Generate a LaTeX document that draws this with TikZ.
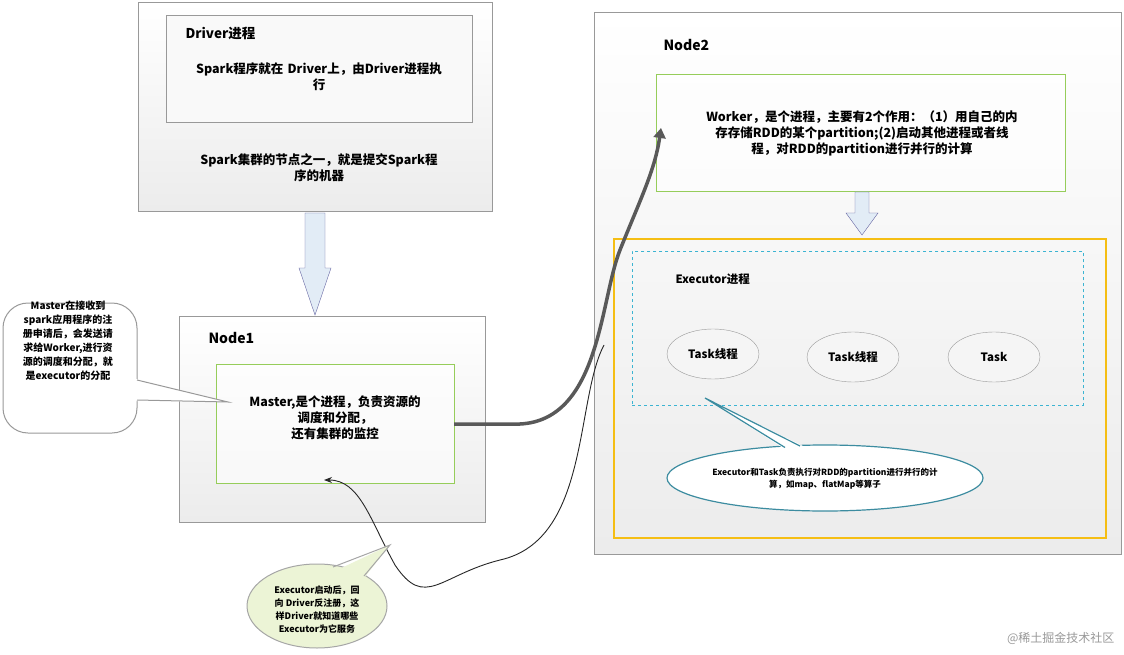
\documentclass[tikz,border=0pt]{standalone}
\usepackage{fontspec}
\setmainfont{Noto Sans CJK SC}
\usetikzlibrary{shapes.geometric,arrows.meta}
\definecolor{ha}{RGB}{226,236,246}
\definecolor{gr}{RGB}{150,205,90}
\definecolor{og}{RGB}{245,190,20}
\definecolor{cy}{RGB}{60,180,210}
\definecolor{tl}{RGB}{60,140,160}
\definecolor{lg}{RGB}{236,244,214}
\begin{document}
\begin{tikzpicture}[x=1pt,y=-1pt,
  box/.style={draw=gray!80,top color=white,bottom color=gray!15},
  grn/.style={draw=gr,line width=1.4pt,fill=white,fill opacity=0.6,text opacity=1},
  txt/.style={font=\fontsize{12.5}{16}\selectfont\bfseries,align=center},
  hollow/.style={draw=blue!40!black!60,fill=ha},
  task/.style={ellipse,draw=gray!80,fill=gray!8,minimum width=92pt,minimum height=50pt,font=\fontsize{11.5}{13}\selectfont\bfseries}]
\useasboundingbox (0,0) rectangle (1124,655);
\fill[white] (0,0) rectangle (1124,655);
% Driver
\node[box,minimum width=354pt,minimum height=209pt,anchor=north west] (drv) at (138,2) {};
\node[draw=gray!80,fill=gray!5,minimum width=306pt,minimum height=107pt,anchor=north west] (drvin) at (166,15) {};
\node[anchor=west,font=\fontsize{13.5}{15}\selectfont\bfseries] (drvt) at (182,33) {Driver进程};
\node[txt,text width=300pt] (drvd) at (319,77) {Spark程序就在 Driver上，由Driver进程执\\行};
\node[txt,text width=300pt] (drvs) at (319,168) {Spark集群的节点之一，就是提交Spark程\\序的机器};
% Node1
\node[box,minimum width=306pt,minimum height=206pt,anchor=north west] (n1) at (179,316) {};
\node[anchor=west,font=\fontsize{14}{15}\selectfont\bfseries] (n1t) at (205,338) {Node1};
\node[grn,minimum width=238pt,minimum height=119pt,anchor=north west] (mst) at (216,364) {};
\node[txt,text width=236pt] (mstt) at (335,418) {Master,是个进程，负责资源的\\调度和分配，\\还有集群的监控};
% hollow arrows
\path[hollow] (305,213) -- (325,213) -- (325,268) -- (331,268) -- (315,315) -- (299,268) -- (305,268) -- cycle;
% Node2
\node[box,minimum width=527pt,minimum height=542pt,anchor=north west] (n2) at (594,12) {};
\node[anchor=west,font=\fontsize{14}{15}\selectfont\bfseries] (n2t) at (660,45) {Node2};
\node[grn,minimum width=409pt,minimum height=117pt,anchor=north west] (wrk) at (656,74) {};
\node[txt,text width=400pt] (wrkt) at (862,133) {Worker，是个进程，主要有2个作用：（1）用自己的内\\存存储RDD的某个partition;(2)启动其他进程或者线\\程，对RDD的partition进行并行的计算};
\path[hollow] (855,192) -- (869,192) -- (869,213) -- (878,213) -- (862,235) -- (846,213) -- (855,213) -- cycle;
\node[draw=og,line width=1.5pt,minimum width=492pt,minimum height=299pt,anchor=north west] (exo) at (613,238) {};
\node[draw=cy,dashed,line width=0.9pt,minimum width=451pt,minimum height=154pt,anchor=north west] (exi) at (632,251) {};
\node[anchor=west,font=\fontsize{11.5}{13}\selectfont\bfseries] (ext) at (672,279) {Executor进程};
\node[task] (t1) at (713,354) {Task线程};
\node[task] (t2) at (853,357) {Task线程};
\node[task] (t3) at (994,357) {Task};
% callout ellipse
\node[ellipse,draw=tl,line width=1.2pt,fill=white,minimum width=316pt,minimum height=66pt] (ce) at (825,478) {};
\fill[white] (705,398) -- (783,448) -- (807,448) -- cycle;
\draw[tl,line width=1.2pt] (785,447.5) -- (705,398) -- (800,446);
\node[font=\fontsize{8.5}{12}\selectfont\bfseries,align=center] (ct) at (825,479) {Executor和Task负责执行对RDD的partition进行并行的计\\算，如map、flatMap等算子};
% left callout
\draw[draw=gray!80,line width=1pt,fill=white,rounded corners=25pt] (137,380) -- (137,303) -- (3,303) -- (3,433) -- (137,433) -- (137,400);
\fill[white] (136,379) -- (228,402) -- (136,401) -- cycle;
\draw[draw=gray!80,line width=1pt] (137,380) -- (228,402) -- (137,400);
\node[font=\fontsize{10}{14}\selectfont\bfseries,align=center] (lct) at (68,341) {Master在接收到\\spark应用程序的注\\册申请后，会发送请\\求给Worker,进行资\\源的调度和分配，就\\是executor的分配};
% thick arrow
\coordinate (ms) at (454,424);
\coordinate (wk) at (661,128);
\draw[gray!70!black,line width=3.5pt,-{Triangle[length=10pt,width=12pt]}] (ms) -- (520,424) .. controls (600,420) and (600,300) .. (620,250) .. controls (640,200) and (655,170) .. (wk);
% thin curve
\coordinate (mb) at (324,480);
\draw[gray!30!black,line width=0.9pt,-{Stealth[length=8pt]}] (604,345) .. controls (575,400) and (590,540) .. (500,560) .. controls (440,575) and (425,610) .. (395,565) .. controls (370,520) and (360,480) .. (mb);
% green callout
\node[ellipse,draw=gray!70,line width=1pt,fill=lg,minimum width=140pt,minimum height=84pt] (ge) at (317,606) {};
\fill[lg] (390,545) -- (333,572) -- (364,578) -- cycle;
\draw[gray!70,line width=1pt] (333,567) -- (390,545) -- (364,576);
\node[font=\fontsize{9}{13}\selectfont\bfseries,align=center] (gct) at (317,610) {Executor启动后，回\\向 Driver反注册，这\\样Driver就知道哪些\\Executor为它服务};
\node[anchor=east,font=\fontsize{12}{14}\selectfont,gray!80] (wm) at (1118,638) {@稀土掘金技术社区};
\end{tikzpicture}
\end{document}
